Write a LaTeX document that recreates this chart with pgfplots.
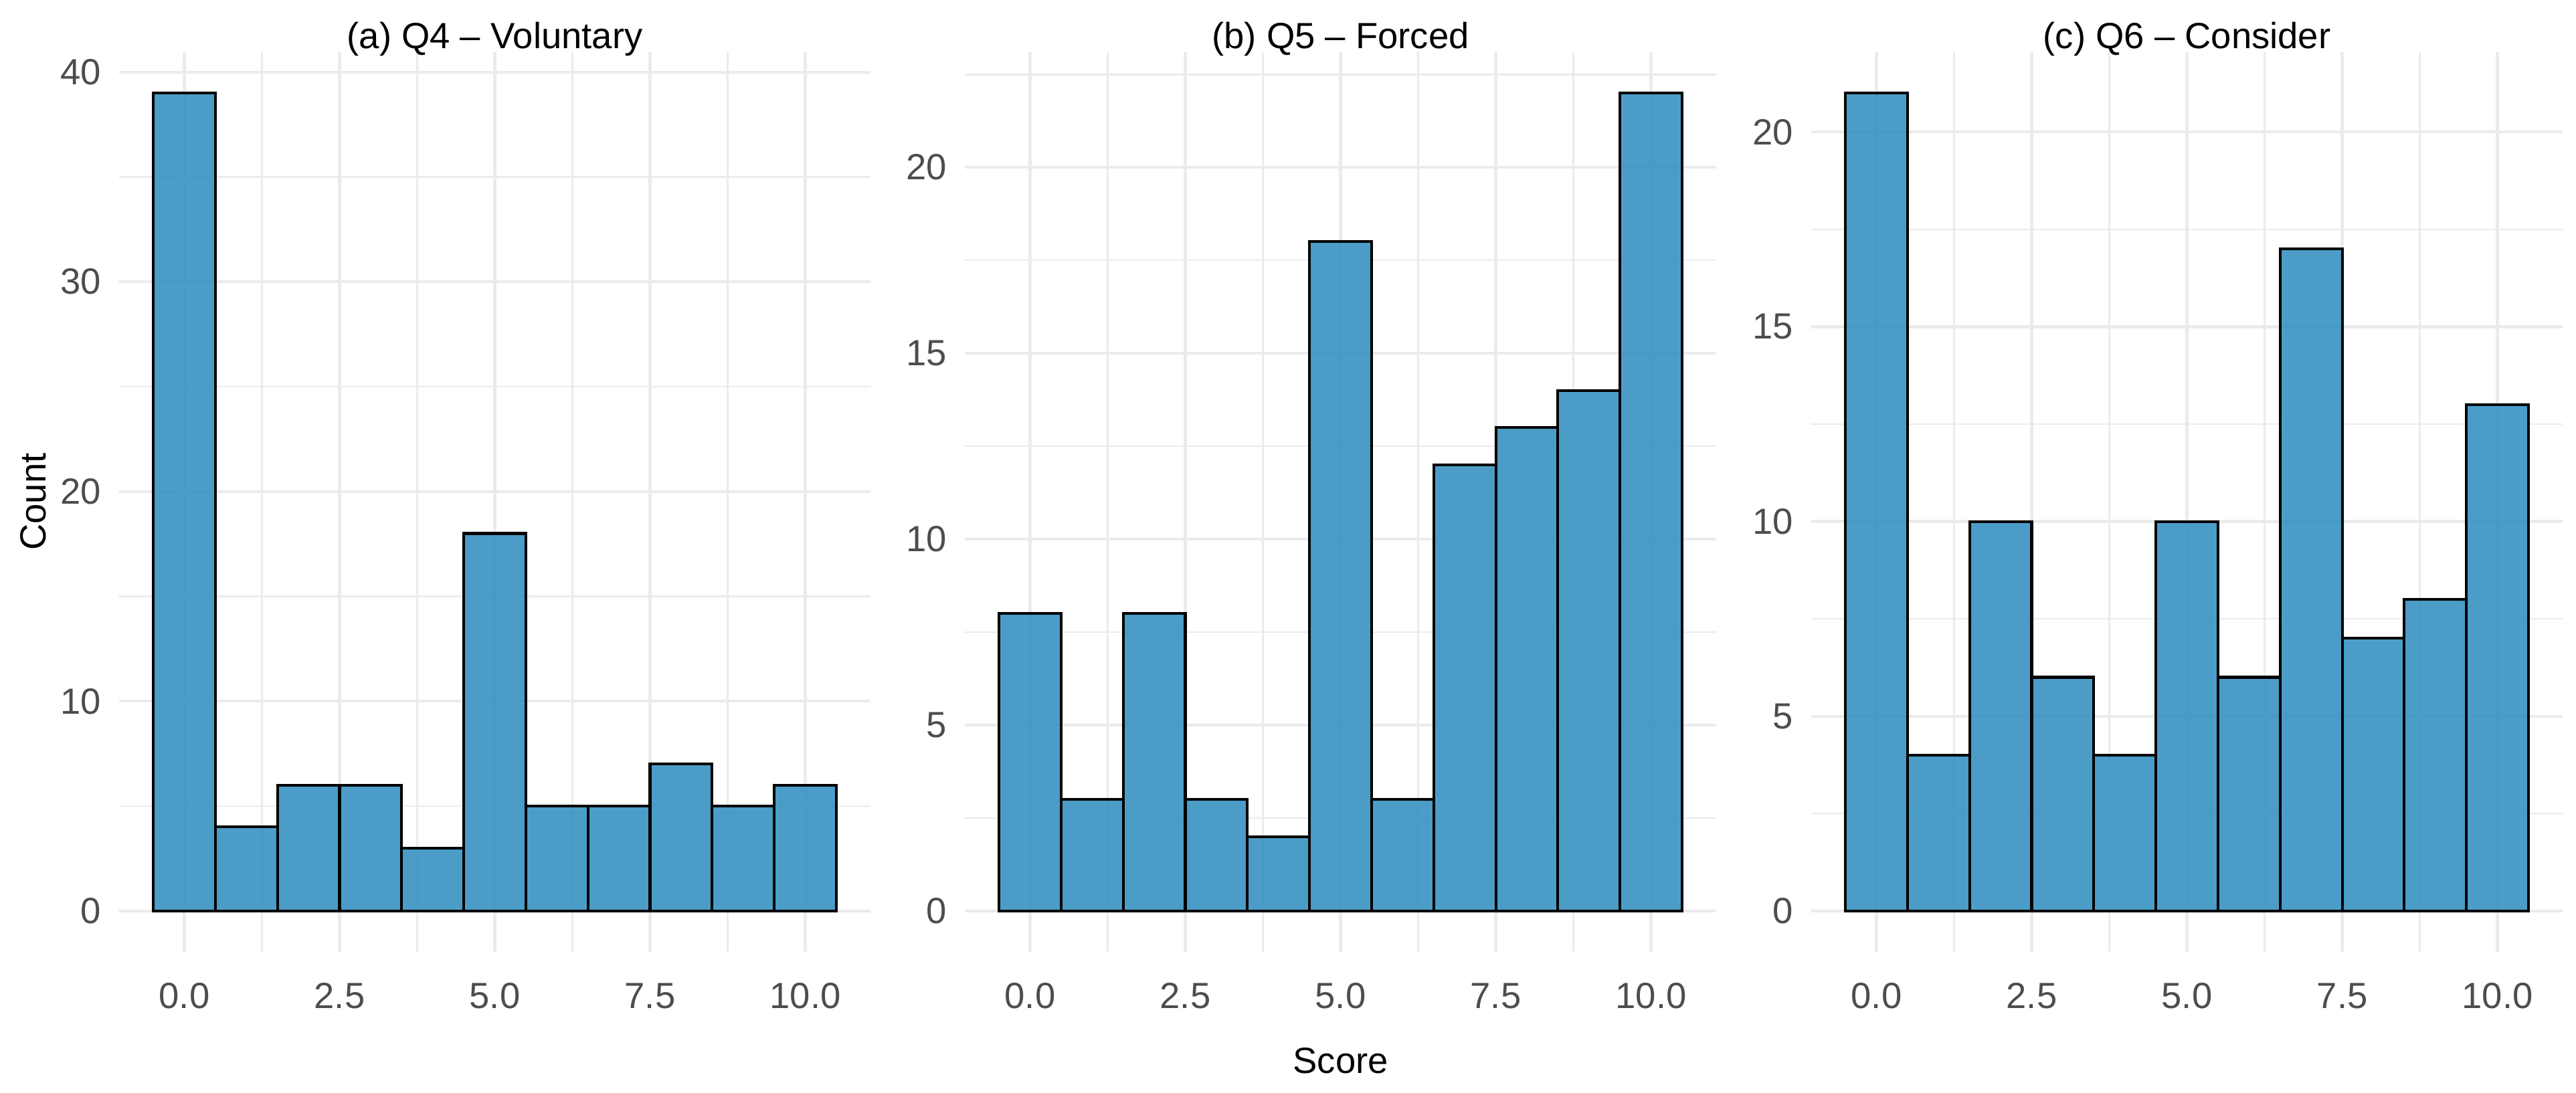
\documentclass[border=0pt]{standalone}
\usepackage{fontspec}
\setmainfont{Liberation Sans}
\usepackage{pgfplots}
\pgfplotsset{compat=1.18}
\definecolor{barblue}{HTML}{2B8CBE}
\definecolor{gridgrey}{HTML}{EBEBEB}
\definecolor{tickgrey}{HTML}{4D4D4D}
\newcommand{\ggfont}{\fontsize{11.2}{13}\selectfont}
\pgfplotsset{
  hist/.style={
    scale only axis, width=231.02pt, height=276.69pt, anchor=south west,
    xmin=-1.05, xmax=11.05,
    axis line style={draw=none},
    major tick style={draw=none}, minor tick style={draw=none},
    xtick={0,2.5,5,7.5,10}, xticklabels={0.0,2.5,5.0,7.5,10.0},
    minor xtick={1.25,3.75,6.25,8.75},
    grid=both,
    major grid style={line width=0.9pt, draw=gridgrey},
    minor grid style={line width=0.5pt, draw=gridgrey},
    tick label style={font=\ggfont, text=tickgrey, inner sep=0pt},
    xticklabel style={anchor=base, yshift=-13.2pt},
    yticklabel style={anchor=east, xshift=-5.35pt},
    ybar, bar width=1,
  },
  histbar/.style={draw=black, line width=0.85pt, fill=barblue, fill opacity=0.85, line join=miter, bar shift=0pt}
}
\begin{document}
\begin{tikzpicture}
\useasboundingbox (0,0) rectangle (792pt,336.14pt);
% (a)
\begin{axis}[hist, at={(36.62pt,43.41pt)},
  ymin=-1.95, ymax=40.95,
  ytick={0,10,20,30,40}, yticklabels={0,10,20,30,40},
  minor ytick={5,15,25,35}]
\addplot[histbar] coordinates {(0,39) (1,4) (2,6) (3,6) (4,3) (5,18) (6,5) (7,5) (8,7) (9,5) (10,6)};
\end{axis}
% (b)
\begin{axis}[hist, at={(296.64pt,43.41pt)},
  ymin=-1.1, ymax=23.1,
  ytick={0,5,10,15,20}, yticklabels={0,5,10,15,20},
  minor ytick={2.5,7.5,12.5,17.5,22.5}]
\addplot[histbar] coordinates {(0,8) (1,3) (2,8) (3,3) (4,2) (5,18) (6,3) (7,12) (8,13) (9,14) (10,22)};
\end{axis}
% (c)
\begin{axis}[hist, at={(556.87pt,43.41pt)},
  ymin=-1.05, ymax=22.05,
  ytick={0,5,10,15,20}, yticklabels={0,5,10,15,20},
  minor ytick={2.5,7.5,12.5,17.5}]
\addplot[histbar] coordinates {(0,21) (1,4) (2,10) (3,6) (4,4) (5,10) (6,6) (7,17) (8,7) (9,8) (10,13)};
\end{axis}
% titles and axis titles
\node[anchor=base, inner sep=0pt, font=\ggfont] at (152.13pt,321.12pt) {(a) Q4 – Voluntary};
\node[anchor=base, inner sep=0pt, font=\ggfont] at (412.15pt,321.12pt) {(b) Q5 – Forced};
\node[anchor=base, inner sep=0pt, font=\ggfont] at (672.38pt,321.12pt) {(c) Q6 – Consider};
\node[anchor=base, inner sep=0pt, font=\ggfont] at (412.2pt,5.97pt) {Score};
\node[anchor=base, inner sep=0pt, rotate=90, font=\ggfont] at (13.99pt,181.85pt) {Count};
\end{tikzpicture}
\end{document}
